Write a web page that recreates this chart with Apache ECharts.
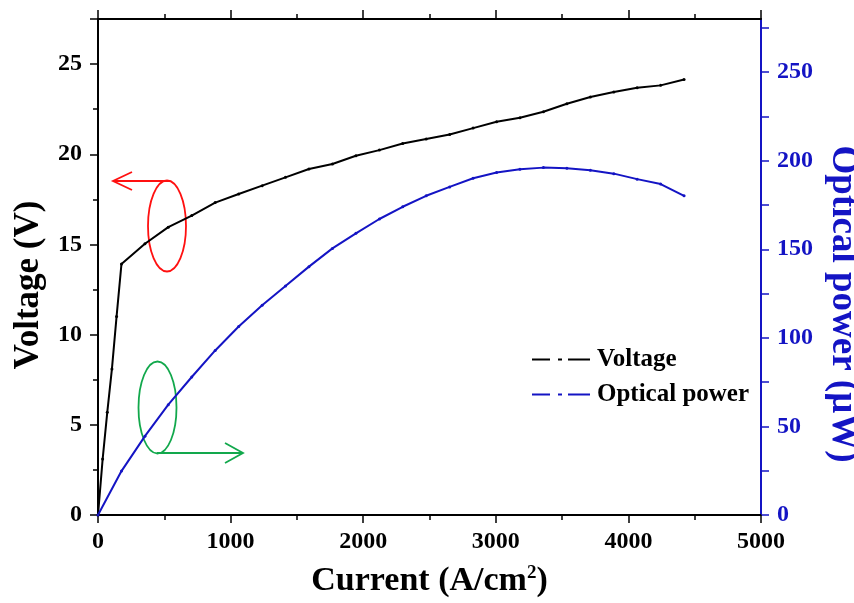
<!DOCTYPE html>
<html lang="en">
<head>
    <meta charset="UTF-8">
    <title>Voltage and optical power</title>
    <script src="https://cdn.jsdelivr.net/npm/echarts@6/dist/echarts.min.js"></script>
    <style>
        html, body { margin: 0; padding: 0; background: #fff; }
        #chart { width: 854px; height: 603px; }
    </style>
</head>
<body>
<div id="chart"></div>
<script>
    // values
    var voltageCurrent = [0, 35, 70, 105, 140, 177, 354, 530, 707, 884, 1061, 1238, 1414, 1591, 1768,
        1945, 2122, 2298, 2475, 2652, 2829, 3006, 3182, 3359, 3536, 3713, 3890, 4066, 4243, 4420];
    var voltageValues = [0, 3.1, 5.7, 8.1, 11.0, 13.92, 15.04, 15.96, 16.6, 17.32, 17.8, 18.26, 18.72, 19.18, 19.46,
        19.92, 20.23, 20.6, 20.85, 21.1, 21.45, 21.8, 22.03, 22.36, 22.8, 23.18, 23.45, 23.69, 23.82, 24.15];
    var powerCurrent = [0, 177, 354, 530, 707, 884, 1061, 1238, 1414, 1591, 1768, 1945, 2122, 2298, 2475,
        2652, 2829, 3006, 3182, 3359, 3536, 3713, 3890, 4066, 4243, 4420];
    var powerValues = [0, 24.8, 44.5, 62.3, 77.9, 92.9, 106.4, 118.4, 129.3, 140.2, 150.5, 159, 167.1, 174, 180.2,
        185.2, 190.1, 193.3, 195.2, 196.1, 195.8, 194.6, 192.7, 189.6, 186.8, 180.2];

    var font = "'Liberation Serif', 'Times New Roman', serif";
    var black = '#000000';
    var blue = '#1414c4';

    function pairs(xs, ys) {
        var out = [];
        for (var i = 0; i < xs.length; i++) out.push([xs[i], ys[i]]);
        return out;
    }
    function plain(v) { return String(v); }

    var labelStyle = { fontFamily: font, fontWeight: 'bold', fontSize: 24, color: black, formatter: plain };
    var dashDot = 'path://M0,0h18v2h-18z M26,0h4v2h-4z M36,0h22v2h-22z';

    var myChart = echarts.init(document.getElementById('chart'));
    myChart.setOption({
        animation: false,
        backgroundColor: '#fff',
        grid: { left: 98, right: 93, top: 19, bottom: 88, outerBoundsMode: 'none' },
        legend: {
            orient: 'vertical',
            left: 532,
            top: 347,
            padding: 0,
            icon: dashDot,
            itemWidth: 58,
            itemHeight: 2,
            itemGap: 10,
            itemStyle: { borderWidth: 0 },
            textStyle: { fontFamily: font, fontWeight: 'bold', fontSize: 25, color: black, padding: [0, 0, 0, 2] },
            data: ['Voltage', 'Optical power']
        },
        xAxis: [{
            type: 'value',
            position: 'bottom',
            min: 0, max: 5000, interval: 1000,
            name: 'Current (A/cm{sup|2})',
            nameLocation: 'middle',
            nameGap: 49,
            nameTextStyle: {
                fontFamily: font, fontWeight: 'bold', fontSize: 34, color: black,
                rich: { sup: { fontFamily: font, fontWeight: 'bold', fontSize: 19, color: black, verticalAlign: 'top', padding: [0, 0, 16, 0] } }
            },
            axisLine: { onZero: false, lineStyle: { color: black, width: 2 } },
            axisTick: { length: 8, lineStyle: { color: black, width: 1.5 } },
            minorTick: { show: true, splitNumber: 2, length: 5, lineStyle: { color: black, width: 1.5 } },
            axisLabel: Object.assign({ margin: 15 }, labelStyle),
            splitLine: { show: false }
        }, {
            type: 'value',
            position: 'top',
            min: 0, max: 5000, interval: 1000,
            axisLine: { onZero: false, lineStyle: { color: black, width: 2 } },
            axisTick: { length: 9, lineStyle: { color: black, width: 1.5 } },
            minorTick: { show: true, splitNumber: 2, length: 5, lineStyle: { color: black, width: 1.5 } },
            axisLabel: { show: false },
            splitLine: { show: false }
        }],
        yAxis: [{
            type: 'value',
            position: 'left',
            min: 0, max: 27.5, interval: 5,
            name: 'Voltage (V)',
            nameLocation: 'middle',
            nameGap: 52,
            nameTextStyle: { fontFamily: font, fontWeight: 'bold', fontSize: 35, color: black, padding: [0, 36, 0, 0] },
            axisLine: { show: true, onZero: false, lineStyle: { color: black, width: 2 } },
            axisTick: { length: 8, lineStyle: { color: black, width: 1.5 } },
            minorTick: { show: true, splitNumber: 2, length: 5, lineStyle: { color: black, width: 1.5 } },
            axisLabel: Object.assign({ margin: 16, showMaxLabel: false }, labelStyle),
            splitLine: { show: false }
        }, {
            type: 'value',
            position: 'right',
            min: 0, max: 280, interval: 25,
            name: 'Optical power (\u03bcW)',
            nameLocation: 'middle',
            nameRotate: -90,
            nameGap: 58,
            nameTextStyle: { fontFamily: font, fontWeight: 'bold', fontSize: 37, color: blue, padding: [0, 0, 0, 74] },
            axisLine: { show: true, onZero: false, lineStyle: { color: blue, width: 2 } },
            axisTick: { length: 8, lineStyle: { color: blue, width: 1.5 } },
            axisLabel: {
                margin: 16, showMaxLabel: false,
                fontFamily: font, fontWeight: 'bold', fontSize: 24, color: blue,
                formatter: function (v) { return v % 50 === 0 ? String(v) : ''; }
            },
            splitLine: { show: false }
        }],
        series: [{
            name: 'Voltage',
            type: 'line',
            xAxisIndex: 0,
            yAxisIndex: 0,
            data: pairs(voltageCurrent, voltageValues),
            symbol: 'circle',
            symbolSize: 3,
            color: black,
            lineStyle: { color: black, width: 2 },
            itemStyle: { color: black }
        }, {
            name: 'Optical power',
            type: 'line',
            xAxisIndex: 0,
            yAxisIndex: 1,
            data: pairs(powerCurrent, powerValues),
            symbol: 'circle',
            symbolSize: 3,
            color: blue,
            lineStyle: { color: blue, width: 2 },
            itemStyle: { color: blue }
        }],
        graphic: [
            // red marker: voltage belongs to the left axis
            { type: 'ellipse', shape: { cx: 167, cy: 226, rx: 19, ry: 45.5 }, style: { fill: 'none', stroke: '#ff1010', lineWidth: 1.8 } },
            { type: 'polyline', shape: { points: [[170, 181], [113, 181]] }, style: { stroke: '#ff1010', lineWidth: 1.8, fill: 'none' } },
            { type: 'polyline', shape: { points: [[132, 172], [113, 181], [132, 190]] }, style: { stroke: '#ff1010', lineWidth: 1.8, fill: 'none' } },
            // green marker: optical power belongs to the right axis
            { type: 'ellipse', shape: { cx: 157.5, cy: 407.5, rx: 19, ry: 46 }, style: { fill: 'none', stroke: '#12a84c', lineWidth: 1.8 } },
            { type: 'polyline', shape: { points: [[157, 453], [243, 453]] }, style: { stroke: '#12a84c', lineWidth: 1.8, fill: 'none' } },
            { type: 'polyline', shape: { points: [[225, 443], [243, 453], [225, 463]] }, style: { stroke: '#12a84c', lineWidth: 1.8, fill: 'none' } }
        ]
    });
</script>
</body>
</html>
